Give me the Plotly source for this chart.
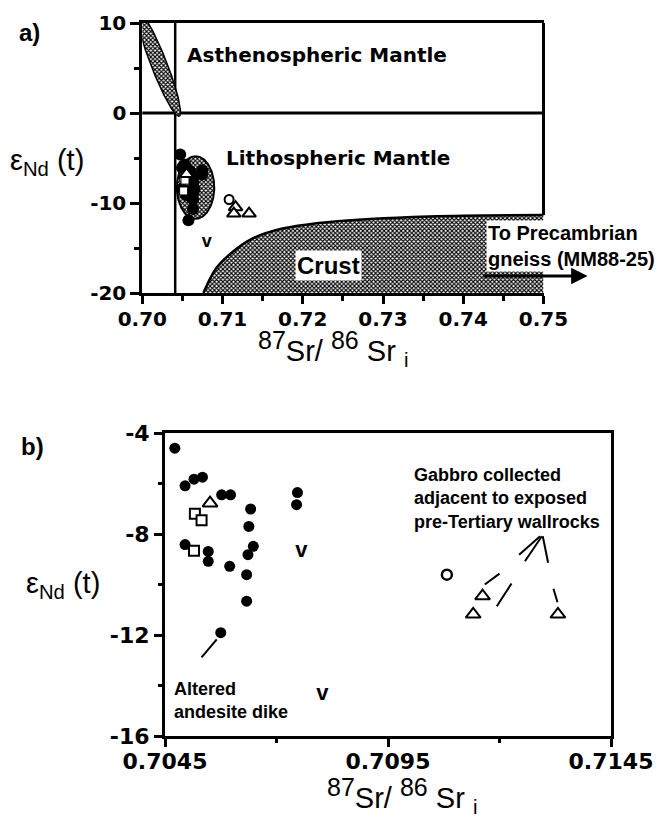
import numpy as np
import plotly.graph_objects as go

W, H = 660, 819

# ---------------- data ----------------
gabbro_sr = [0.70472, 0.70495, 0.70515, 0.70534, 0.70577, 0.70597, 0.70642, 0.70638,
             0.70648, 0.70636, 0.70633, 0.70633, 0.70595, 0.70547, 0.70547, 0.70495,
             0.70575, 0.70747, 0.70745]
gabbro_nd = [-4.60, -6.09, -5.83, -5.75, -6.45, -6.45, -7.01, -7.70,
             -8.49, -8.82, -9.61, -10.66, -9.28, -8.69, -9.08, -8.42,
             -11.91, -6.36, -6.84]
square_sr = [0.70517, 0.70532, 0.70515]
square_nd = [-7.20, -7.46, -8.66]
triangle_sr = [0.70551, 0.71162, 0.71141, 0.71331]
triangle_nd = [-6.78, -10.46, -11.18, -11.18]
circle_sr = [0.71082]
circle_nd = [-9.61]
v_sr = [0.70756, 0.70803]
v_nd = [-8.69, -14.34]

# fields in panel a
crust_sr = [0.70762, 0.70917, 0.71124, 0.71371, 0.71748, 0.72333, 0.73574, 0.7500]
crust_nd = [-20.0, -17.3, -15.45, -13.96, -12.84, -12.1, -11.5, -11.34]
sr_boundary = 0.7041
nd_boundary = 0.0
# mantle array ellipse (centre, conjugate half-axes)
mantle_array = dict(cx=0.702075, cy=5.425, hx=-0.002475, hy=5.775, w=0.00105)
litho_field = dict(cx=0.70664, cy=-8.28, hx=0.0, hy=3.48, w=0.00233)

# leader lines in panel b
gabbro_leader_sr = [[0.71244, 0.71291], [0.71257, 0.71295], [0.71309, 0.71297],
                    [0.71167, 0.71200], [0.71194, 0.71227], [0.71321, 0.71330]]
gabbro_leader_nd = [[-8.82, -8.09], [-9.08, -8.09], [-9.14, -8.09],
                    [-10.0, -9.57], [-10.86, -9.96], [-10.17, -10.70]]
dike_leader_sr = [0.70532, 0.70566]
dike_leader_nd = [-12.89, -12.17]

xa_ticks = [0.70, 0.71, 0.72, 0.73, 0.74, 0.75]
ya_ticks = [-20, -10, 0, 10]
xb_ticks = [0.7045, 0.7095, 0.7145]
yb_ticks = [-16, -12, -8, -4]


def ellipse(cx, cy, hx, hy, w, n=240):
    t = np.linspace(0, 2 * np.pi, n)
    return cx + hx * np.cos(t) + w * np.sin(t), cy + hy * np.cos(t)


STIPPLE = dict(shape='x', size=3, solidity=0.6, fgcolor='black', bgcolor='white')

fig = go.Figure()

# ---------- panel a ----------
fig.add_trace(go.Scatter(x=v_sr, y=v_nd, mode='text', text=['v'] * len(v_sr),
                         textfont=dict(family='Liberation Sans', size=18, weight='bold', color='black'),
                         xaxis='x', yaxis='y', hoverinfo='skip'))

ex, ey = ellipse(**mantle_array)
fig.add_trace(go.Scatter(x=ex, y=ey, mode='lines', fill='toself', fillpattern=STIPPLE,
                         line=dict(color='black', width=1.5), xaxis='x', yaxis='y', hoverinfo='skip'))

cx_, cy_ = ellipse(**litho_field)
fig.add_trace(go.Scatter(x=cx_, y=cy_, mode='lines', fill='toself', fillpattern=STIPPLE,
                         line=dict(color='black', width=2), xaxis='x', yaxis='y', hoverinfo='skip'))

poly_x = crust_sr + [crust_sr[-1], crust_sr[0]]
poly_y = crust_nd + [-20.0, -20.0]
fig.add_trace(go.Scatter(x=poly_x, y=poly_y, mode='lines', fill='toself', fillpattern=STIPPLE,
                         line=dict(width=0, color='rgba(0,0,0,0)'), xaxis='x', yaxis='y', hoverinfo='skip'))
fig.add_trace(go.Scatter(x=crust_sr, y=crust_nd, mode='lines', line=dict(color='black', width=2.5, shape='spline'),
                         xaxis='x', yaxis='y', hoverinfo='skip'))

fig.add_trace(go.Scatter(x=gabbro_sr, y=gabbro_nd, mode='markers',
                         marker=dict(symbol='circle', size=12, color='black'),
                         xaxis='x', yaxis='y', hoverinfo='skip'))
fig.add_trace(go.Scatter(x=square_sr, y=square_nd, mode='markers',
                         marker=dict(symbol='square', size=8, color='white', line=dict(color='black', width=1)),
                         xaxis='x', yaxis='y', hoverinfo='skip'))
fig.add_trace(go.Scatter(x=triangle_sr, y=triangle_nd, mode='markers',
                         marker=dict(symbol='triangle-up', size=12, color='white', line=dict(color='black', width=2)),
                         xaxis='x', yaxis='y', hoverinfo='skip'))
fig.add_trace(go.Scatter(x=circle_sr, y=circle_nd, mode='markers',
                         marker=dict(symbol='circle', size=9, color='white', line=dict(color='black', width=2)),
                         xaxis='x', yaxis='y', hoverinfo='skip'))

# ---------- panel b ----------
lx, ly = [], []
for xs, ys in zip(gabbro_leader_sr, gabbro_leader_nd):
    lx += xs + [None]
    ly += ys + [None]
lx += dike_leader_sr
ly += dike_leader_nd
fig.add_trace(go.Scatter(x=lx, y=ly, mode='lines', line=dict(color='black', width=2),
                         xaxis='x2', yaxis='y2', hoverinfo='skip'))

fig.add_trace(go.Scatter(x=gabbro_sr, y=gabbro_nd, mode='markers',
                         marker=dict(symbol='circle', size=11, color='black'),
                         xaxis='x2', yaxis='y2', hoverinfo='skip'))
fig.add_trace(go.Scatter(x=square_sr, y=square_nd, mode='markers',
                         marker=dict(symbol='square', size=10, color='white', line=dict(color='black', width=2)),
                         xaxis='x2', yaxis='y2', hoverinfo='skip'))
fig.add_trace(go.Scatter(x=triangle_sr, y=triangle_nd, mode='markers',
                         marker=dict(symbol='triangle-up', size=13, color='white', line=dict(color='black', width=2)),
                         xaxis='x2', yaxis='y2', hoverinfo='skip'))
fig.add_trace(go.Scatter(x=circle_sr, y=circle_nd, mode='markers',
                         marker=dict(symbol='circle', size=10, color='white', line=dict(color='black', width=2.5)),
                         xaxis='x2', yaxis='y2', hoverinfo='skip'))
fig.add_trace(go.Scatter(x=v_sr, y=v_nd, mode='text', text=['v'] * len(v_sr),
                         textfont=dict(family='Liberation Sans', size=22, weight='bold', color='black'),
                         xaxis='x2', yaxis='y2', hoverinfo='skip'))

TICKFONT_A = dict(family='DejaVu Sans', size=20, weight='bold', color='black')
TICKFONT_B = dict(family='DejaVu Sans', size=22, weight='bold', color='black')
common = dict(showgrid=False, zeroline=False, showline=True, linecolor='black', linewidth=3,
              ticks='outside', tickwidth=3, tickcolor='black', automargin=False)

fig.update_layout(
    template='none',
    width=W, height=H, autosize=False, showlegend=False,
    margin=dict(l=0, r=0, t=0, b=0, pad=0),
    paper_bgcolor='white', plot_bgcolor='white',
    xaxis=dict(domain=[142.3 / W, 543.5 / W], range=[0.70, 0.75], anchor='y',
               tickvals=xa_ticks, ticktext=['%.2f' % v for v in xa_ticks], ticklen=8,
               ticklabelstandoff=-2,
               minor=dict(dtick=0.005, ticklen=5, tickwidth=2.5, tickcolor='black', ticks='outside'),
               mirror=True, tickfont=TICKFONT_A, **common),
    yaxis=dict(domain=[1 - 293 / H, 1 - 23 / H], range=[-20, 10], anchor='x',
               tickvals=ya_ticks, ticktext=[str(v) for v in ya_ticks], ticklen=9,
               minor=dict(dtick=5, ticklen=5, tickwidth=2.5, tickcolor='black', ticks='outside'),
               tickfont=TICKFONT_A, **common),
    xaxis2=dict(domain=[165 / W, 611 / W], range=[0.7045, 0.7145], anchor='y2',
                tickvals=xb_ticks, ticktext=['%.4f' % v for v in xb_ticks], ticklen=8,
                ticklabelstandoff=-4,
                minor=dict(tickvals=[0.707, 0.712], ticklen=4, tickwidth=2.5, tickcolor='black', ticks='outside'),
                mirror=True, tickfont=TICKFONT_B, **common),
    yaxis2=dict(domain=[1 - 736 / H, 1 - 433 / H], range=[-16, -4], anchor='x2',
                tickvals=yb_ticks, ticktext=[str(v) for v in yb_ticks], ticklen=8,
                minor=dict(tickvals=[-14, -10, -6], ticklen=4, tickwidth=2.5, tickcolor='black', ticks='outside'),
                mirror=True, tickfont=TICKFONT_B, **common),
)

fig.add_shape(type='line', xref='x domain', x0=0, x1=1, yref='y', y0=nd_boundary, y1=nd_boundary,
              line=dict(color='black', width=3), layer='below')
fig.add_shape(type='line', xref='x', x0=sr_boundary, x1=sr_boundary, yref='y domain', y0=0, y1=1,
              line=dict(color='black', width=2.5), layer='below')
fig.add_shape(type='line', xref='x domain', x0=1, x1=1, yref='y', y0=crust_nd[-1], y1=10,
              line=dict(color='black', width=3), layer='above')

LAB = dict(family='Liberation Sans', color='black', weight='bold')
C = dict(xanchor='center', yanchor='middle', showarrow=False)
L = dict(xanchor='left', yanchor='middle', showarrow=False, align='left')
ann = []
ann.append(dict(x=0.72176, y=6.42, xref='x', yref='y', text='Asthenospheric Mantle',
                font=dict(family='DejaVu Sans', size=20, weight='bold', color='black'), **C))
ann.append(dict(x=0.72437, y=-5.04, xref='x', yref='y', text='Lithospheric Mantle',
                font=dict(family='DejaVu Sans', size=20, weight='bold', color='black'), **C))
ann.append(dict(x=0.72319, y=-16.9, xref='x', yref='y', text='Crust',
                bgcolor='white', borderpad=1, font=dict(size=24, **LAB), **C))
ann.append(dict(x=0.7428, y=-14.73, xref='x', yref='y', text='To Precambrian<br>gneiss (MM88-25)',
                bgcolor='white', borderpad=1, font=dict(size=20, **LAB), **L))
ann.append(dict(x=0.7555, y=-18.1, ax=0.7423, ay=-18.1, xref='x', yref='y', axref='x', ayref='y',
                text='', showarrow=True, arrowhead=2, arrowsize=1.1, arrowwidth=3, arrowcolor='black'))
ann.append(dict(x=0.71003, y=-6.58, xref='x2', yref='y2',
                text='Gabbro collected<br>adjacent to exposed<br>pre-Tertiary wallrocks',
                font=dict(size=18, **LAB), **L))
ann.append(dict(x=0.70466, y=-14.6, xref='x2', yref='y2', text='Altered<br>andesite dike',
                font=dict(size=18, **LAB), **L))


def paper(px, py):
    return px / W, 1 - py / H


SR_TITLE = ("<sup><span style='font-size:25px'>87</span></sup>Sr/ "
            "<sup><span style='font-size:25px'>86</span></sup> Sr <sub>i</sub>")
TITLE = dict(family='Liberation Sans', size=29, color='black')
for (px, py, txt) in [(333, 348, SR_TITLE),
                      (402, 795, SR_TITLE),
                      (47, 162, 'ε<sub>Nd</sub> (t)'),
                      (63, 585, 'ε<sub>Nd</sub> (t)')]:
    x, y = paper(px, py)
    ann.append(dict(x=x, y=y, xref='paper', yref='paper', text=txt, font=TITLE, **C))
for (px, py, txt) in [(29, 33, 'a)'), (32, 447, 'b)')]:
    x, y = paper(px, py)
    ann.append(dict(x=x, y=y, xref='paper', yref='paper', text=txt,
                    font=dict(size=24, **LAB), **C))

fig.update_layout(annotations=ann)
fig.write_html('out.html', config={'displayModeBar': False},
               post_script="document.body.style.margin='0px'; document.body.style.overflow='hidden';")
